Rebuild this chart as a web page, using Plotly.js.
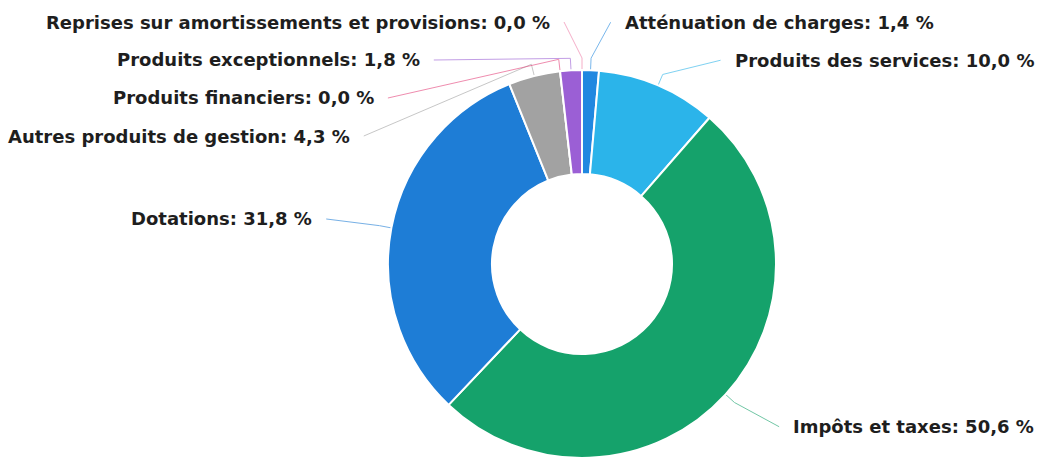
<!DOCTYPE html>
<html>
<head>
<meta charset="utf-8">
<script src="https://cdn.plot.ly/plotly-3.0.1.min.js"></script>
<style>html,body{margin:0;padding:0;background:#fff;}#chart{width:1041px;height:458px;}</style>
</head>
<body>
<div id="chart"></div>
<script>
// ---- data ----
const categories = [
  'Atténuation de charges',
  'Produits des services',
  'Impôts et taxes',
  'Dotations',
  'Autres produits de gestion',
  'Produits financiers',
  'Produits exceptionnels',
  'Reprises sur amortissements et provisions'
];
const values = [1.4, 10.0, 50.6, 31.8, 4.3, 0.0, 1.8, 0.0];
const sliceColors = ['#2188e0', '#2bb4ea', '#15a26b', '#1e7dd6', '#a2a2a2', '#e5417a', '#9b5fd5', '#f07aa5'];

// ---- layout constants (pixels) ----
const W = 1041, H = 458;
const cx = 582, cy = 264, r = 194;
const labelR = 242, pad = 30, gap = 12, elbowOut = 12;
const lineH = 38, topY = 22, botY = 436, leftBound = 10, rightBound = 1032;
const fontSize = 18, fontFamily = 'DejaVu Sans';

const px = x => x / W;
const py = y => 1 - y / H;

const ctx = document.createElement('canvas').getContext('2d');
ctx.font = 'bold ' + fontSize + 'px "' + fontFamily + '"';

const total = values.reduce((a, b) => a + b, 0);
let cum = 0;
const items = categories.map((c, i) => {
  const a0 = cum / total * 2 * Math.PI;
  cum += values[i];
  const a1 = cum / total * 2 * Math.PI;
  const mid = (a0 + a1) / 2;
  const text = c + ': ' + values[i].toFixed(1).replace('.', ',') + ' %';
  return {
    i, text, mid,
    left: mid > Math.PI,
    natY: cy - labelR * Math.cos(mid),
    width: ctx.measureText(text).width
  };
});

function distribute(group) {
  group.sort((a, b) => a.natY - b.natY);
  let prev = -Infinity;
  group.forEach(it => { it.y = Math.max(it.natY, topY, prev + lineH); prev = it.y; });
  let next = Infinity;
  for (let k = group.length - 1; k >= 0; k--) {
    const it = group[k];
    it.y = Math.min(it.y, botY, next - lineH);
    next = it.y;
  }
}
distribute(items.filter(it => it.left));
distribute(items.filter(it => !it.left));

const annotations = [], shapes = [];
items.forEach(it => {
  const dy = it.y - cy;
  const dx = Math.sqrt(Math.max(0, labelR * labelR - dy * dy)) + pad;
  let ax, sx;
  if (it.left) {
    ax = cx - dx;
    if (ax - it.width < leftBound) ax = leftBound + it.width;
    sx = ax + gap;
  } else {
    ax = cx + dx;
    if (ax + it.width > rightBound) ax = rightBound - it.width;
    sx = ax - gap;
  }
  annotations.push({
    xref: 'paper', yref: 'paper', x: px(ax), y: py(it.y),
    xanchor: it.left ? 'right' : 'left', yanchor: 'middle',
    text: it.text, showarrow: false,
    font: {family: fontFamily, size: fontSize, color: '#1e1e1e', weight: 'bold'}
  });
  const ex = cx + (r + elbowOut) * Math.sin(it.mid), ey = cy - (r + elbowOut) * Math.cos(it.mid);
  const tx = cx + r * Math.sin(it.mid), ty = cy - r * Math.cos(it.mid);
  shapes.push({
    type: 'path', xref: 'paper', yref: 'paper', layer: 'below',
    path: 'M' + px(sx) + ',' + py(it.y) + ' L' + px(ex) + ',' + py(ey) + ' L' + px(tx) + ',' + py(ty),
    line: {color: sliceColors[it.i], width: 1}, opacity: 0.6
  });
});

const trace = {
  type: 'pie',
  labels: categories,
  values: values,
  sort: false,
  direction: 'clockwise',
  rotation: 0,
  hole: 0.464,
  textinfo: 'none',
  hoverinfo: 'label+percent',
  marker: {colors: sliceColors, line: {color: '#ffffff', width: 2}},
  domain: {x: [(cx - r) / W, (cx + r) / W], y: [(H - cy - r) / H, (H - cy + r) / H]},
  showlegend: false
};

const layout = {
  width: W, height: H,
  margin: {l: 0, r: 0, t: 0, b: 0},
  paper_bgcolor: '#ffffff',
  plot_bgcolor: '#ffffff',
  showlegend: false,
  annotations: annotations,
  shapes: shapes
};

Plotly.newPlot('chart', [trace], layout, {displayModeBar: false, staticPlot: true});
</script>
</body>
</html>
